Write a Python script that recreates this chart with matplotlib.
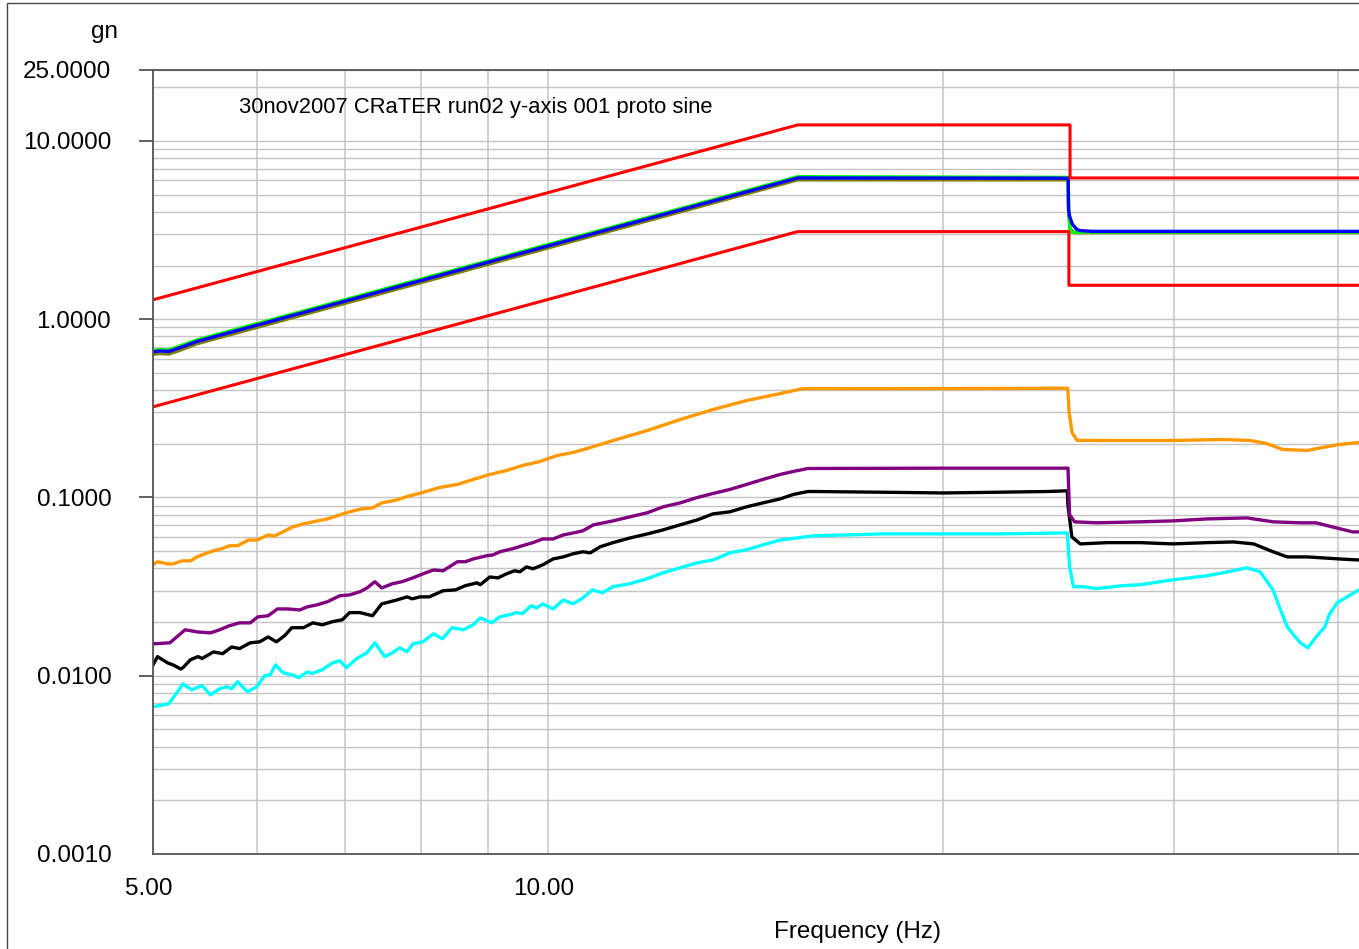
import matplotlib
matplotlib.use("Agg")
import matplotlib.pyplot as plt
from matplotlib.patches import Rectangle
from matplotlib.transforms import ScaledTranslation
from matplotlib.ticker import FixedLocator, FixedFormatter, NullFormatter

plt.rcParams['font.family'] = ['Liberation Sans', 'DejaVu Sans']

title = "30nov2007 CRaTER run02 y-axis 001 proto sine"

# limits (red) and control/reference traces
red_hi_f = [5.0, 15.5, 25.0, 25.0, 50.0]
red_hi_g = [1.285, 12.3, 12.3, 6.2, 6.2]
red_lo_f = [5.0, 15.5, 24.95, 24.95, 50.0]
red_lo_g = [0.3225, 3.1, 3.1, 1.55, 1.55]

blue_f = [5.0, 5.06, 5.14, 5.25, 5.4, 15.5, 24.92, 24.93, 24.98, 25.1, 25.3, 25.45, 26.0, 50.0]
blue_g = [0.656, 0.664, 0.659, 0.695, 0.75, 6.2, 6.18, 4.13, 3.79, 3.41, 3.19, 3.14, 3.11, 3.11]

green_f = [5.0, 5.06, 5.14, 5.25, 5.4, 15.5, 24.92, 24.94, 24.99, 25.05, 50.0]
green_g = [0.668, 0.676, 0.672, 0.71, 0.765, 6.3, 6.25, 4.0, 3.2, 3.08, 3.08]

olive_f = [5.0, 5.06, 5.14, 5.25, 5.4, 15.5, 24.92, 24.94, 25.0, 25.2, 50.0]
olive_g = [0.635, 0.642, 0.637, 0.672, 0.728, 6.05, 6.05, 4.0, 3.2, 3.06, 3.06]

# response channels
orange_f = [5.0, 5.04, 5.13, 5.18, 5.26, 5.34, 5.4, 5.5, 5.56, 5.64, 5.72, 5.8, 5.91, 6.0,
            6.12, 6.19, 6.28, 6.39, 6.51, 6.62, 6.79, 6.94, 7.06, 7.21, 7.35, 7.47, 7.67,
            7.81, 8.03, 8.27, 8.53, 8.77, 9.03, 9.3, 9.56, 9.86, 10.16, 10.45, 10.71, 10.96,
            11.21, 11.9, 12.61, 13.36, 14.17, 15.03, 15.65, 20.0, 24.9, 24.96, 25.09, 25.31,
            26.7, 29.95, 32.7, 34.3, 35.3, 36.3, 37.9, 39.3, 40.1, 41.5, 42.0]
orange_g = [0.0419, 0.0436, 0.0424, 0.0424, 0.0441, 0.0441, 0.0464, 0.0489, 0.0502, 0.0516,
            0.0536, 0.0536, 0.0577, 0.0577, 0.0616, 0.0609, 0.0641, 0.0684, 0.0711, 0.0730,
            0.0758, 0.0798, 0.0831, 0.0863, 0.0874, 0.0932, 0.0969, 0.1013, 0.1067, 0.1138,
            0.1183, 0.1262, 0.1346, 0.1417, 0.1511, 0.1591, 0.1719, 0.1788, 0.1882, 0.1983,
            0.2087, 0.2373, 0.2735, 0.3115, 0.3497, 0.3827, 0.4083, 0.408, 0.41, 0.30, 0.231,
            0.209, 0.2087, 0.2087, 0.2115, 0.2087, 0.2007, 0.1859, 0.1835, 0.1931, 0.1983,
            0.2034, 0.204]

purple_f = [5.0, 5.15, 5.29, 5.41, 5.53, 5.62, 5.72, 5.82, 5.93, 6.01, 6.12, 6.22, 6.33, 6.47,
            6.55, 6.67, 6.79, 6.94, 7.06, 7.19, 7.28, 7.38, 7.47, 7.61, 7.74, 7.89, 8.03, 8.18,
            8.32, 8.53, 8.65, 8.77, 8.98, 9.08, 9.19, 9.4, 9.56, 9.74, 9.91, 10.09, 10.27,
            10.45, 10.63, 10.83, 11.21, 11.54, 11.9, 12.24, 12.61, 13.0, 13.36, 13.76, 14.17,
            14.58, 15.03, 15.38, 15.78, 20.0, 24.91, 24.98, 25.2, 26.2, 28.25, 29.95, 31.8,
            34.1, 35.7, 37.45, 38.5, 39.6, 41.05, 42.0]
purple_g = [0.0151, 0.0153, 0.0181, 0.0176, 0.0174, 0.0181, 0.0191, 0.0198, 0.0198, 0.0214,
            0.0217, 0.0237, 0.0237, 0.0234, 0.0243, 0.0250, 0.0260, 0.0281, 0.0284, 0.0296,
            0.0311, 0.0337, 0.0311, 0.0328, 0.0337, 0.0354, 0.0373, 0.0392, 0.0388, 0.0436,
            0.0436, 0.0452, 0.0471, 0.0476, 0.0496, 0.0516, 0.0536, 0.0558, 0.0585, 0.0585,
            0.0616, 0.0632, 0.0650, 0.0702, 0.0739, 0.0778, 0.0820, 0.0886, 0.0932, 0.100,
            0.1053, 0.1109, 0.1183, 0.1262, 0.1346, 0.1399, 0.1454, 0.146, 0.146, 0.08,
            0.0730, 0.0721, 0.0730, 0.0739, 0.0758, 0.0768, 0.0730, 0.0721, 0.0721, 0.0684,
            0.0641, 0.0641]

black_f = [5.0, 5.04, 5.13, 5.18, 5.25, 5.27, 5.34, 5.41, 5.45, 5.56, 5.65, 5.74, 5.82, 5.93,
           6.03, 6.12, 6.21, 6.3, 6.38, 6.51, 6.62, 6.73, 6.85, 6.97, 7.06, 7.19, 7.35, 7.47,
           7.67, 7.81, 7.88, 7.99, 8.12, 8.32, 8.5, 8.65, 8.83, 8.88, 9.03, 9.16, 9.3, 9.43,
           9.52, 9.63, 9.74, 9.91, 10.09, 10.27, 10.45, 10.63, 10.77, 10.96, 11.21, 11.54,
           11.9, 12.24, 12.61, 13.0, 13.36, 13.76, 14.17, 14.58, 15.03, 15.38, 15.78, 16.0,
           18.0, 20.0, 22.0, 24.0, 24.88, 24.91, 25.08, 25.45, 26.7, 28.25, 29.95, 31.8, 33.3,
           34.5, 35.7, 36.6, 37.9, 39.0, 40.1, 41.5, 42.0]
black_g = [0.0115, 0.0128, 0.0118, 0.0115, 0.0109, 0.0111, 0.0123, 0.0128, 0.0125, 0.0136,
           0.0133, 0.0145, 0.0142, 0.0153, 0.0155, 0.0165, 0.0155, 0.0168, 0.0186, 0.0186,
           0.0198, 0.0193, 0.0201, 0.0206, 0.0226, 0.0226, 0.0217, 0.0253, 0.0266, 0.0277,
           0.0270, 0.0277, 0.0277, 0.0300, 0.0303, 0.0320, 0.0332, 0.0324, 0.0358, 0.0354,
           0.0373, 0.0388, 0.0383, 0.0408, 0.0398, 0.0419, 0.0452, 0.0464, 0.0483, 0.0496,
           0.0489, 0.0529, 0.0558, 0.0592, 0.0624, 0.0658, 0.0702, 0.0749, 0.0809, 0.0831,
           0.0886, 0.0932, 0.0982, 0.1039, 0.1080, 0.108, 0.107, 0.106, 0.107, 0.108, 0.109,
           0.090, 0.0601, 0.0549, 0.0558, 0.0558, 0.0549, 0.0558, 0.0563, 0.0549, 0.0496,
           0.0464, 0.0464, 0.0458, 0.0452, 0.0446, 0.0446]

cyan_f = [5.0, 5.14, 5.18, 5.27, 5.35, 5.45, 5.53, 5.62, 5.69, 5.74, 5.8, 5.9, 6.0, 6.08,
          6.14, 6.2, 6.28, 6.39, 6.46, 6.55, 6.61, 6.73, 6.85, 6.94, 7.02, 7.15, 7.28, 7.38,
          7.51, 7.61, 7.71, 7.81, 7.89, 8.03, 8.18, 8.31, 8.45, 8.62, 8.77, 8.88, 9.06, 9.19,
          9.35, 9.46, 9.56, 9.71, 9.8, 9.91, 10.09, 10.27, 10.45, 10.63, 10.81, 11.0, 11.21,
          11.54, 11.9, 12.24, 12.61, 13.0, 13.36, 13.76, 14.17, 14.58, 15.03, 15.47, 15.92,
          18.0, 20.0, 22.0, 24.0, 24.88, 24.98, 25.15, 25.6, 26.2, 27.4, 28.25, 29.95, 31.8,
          32.7, 34.1, 34.9, 35.7, 36.1, 36.6, 37.0, 37.45, 37.95, 38.5, 39.1, 39.4, 39.95,
          40.9, 41.5, 42.0]
cyan_g = [0.0067, 0.00697, 0.00753, 0.0090, 0.00835, 0.00879, 0.00782, 0.00845, 0.00868,
          0.00845, 0.00926, 0.00814, 0.00868, 0.0100, 0.0101, 0.01152, 0.0104, 0.0101, 0.00975,
          0.0105, 0.0103, 0.0108, 0.0118, 0.01214, 0.0111, 0.0125, 0.01346, 0.01531, 0.01278,
          0.01346, 0.01435, 0.01363, 0.0151, 0.0155, 0.01719, 0.01612, 0.0186, 0.0181, 0.0193,
          0.0211, 0.0198, 0.0214, 0.0220, 0.0226, 0.0223, 0.0247, 0.0240, 0.0253, 0.0237,
          0.0266, 0.0253, 0.0273, 0.0303, 0.0292, 0.0316, 0.0328, 0.0350, 0.0378, 0.0403,
          0.0430, 0.0446, 0.0489, 0.0509, 0.0542, 0.0577, 0.0592, 0.0609, 0.0625, 0.0625,
          0.0625, 0.063, 0.0633, 0.0408, 0.0316, 0.0316, 0.0308, 0.0320, 0.0324, 0.0345,
          0.0364, 0.0378, 0.0403, 0.0383, 0.0303, 0.0243, 0.0188, 0.0170, 0.0153, 0.01435,
          0.0165, 0.0188, 0.0220, 0.0257, 0.0284, 0.0303, 0.031]

y_ticks = [0.001, 0.01, 0.1, 1.0, 10.0, 25.0]
y_labels = ["0.0010", "0.0100", "0.1000", "1.0000", "10.0000", "25.0000"]
x_ticks = [5.0, 10.0]
x_labels = ["5.00", "10.00"]
x_minor = [6, 7, 8, 9, 20, 30, 40]
y_minor = [m * d for d in (0.001, 0.01, 0.1, 1.0) for m in range(2, 10)] + [20.0]

W, H = 1359, 949
fig = plt.figure(figsize=(W / 100, H / 100), dpi=100)
fig.add_artist(Rectangle((7 / W, -0.1), 2.0, 1.1 - 2.5 / H, transform=fig.transFigure,
                         fill=False, ec="#444444", lw=1.0))

# axis runs out to 50 Hz, past the right edge of the picture
ax = fig.add_axes([153 / W, 1 - 854 / H, 1312 / W, (854 - 70) / H])
ax.set_xscale("log")
ax.set_yscale("log")

lw = 2.4
ax.plot(cyan_f, cyan_g, color="#00FFFF", lw=lw)
ax.plot(black_f, black_g, color="black", lw=lw)
ax.plot(purple_f, purple_g, color="#800080", lw=lw)
ax.plot(orange_f, orange_g, color="#FF9900", lw=lw)
ax.plot(olive_f, olive_g, color="#808000", lw=lw)
ax.plot(green_f, green_g, color="#00FF00", lw=lw)
ax.plot(blue_f, blue_g, color="#0000FF", lw=lw)
ax.plot(red_hi_f, red_hi_g, color="#FF0000", lw=2.2)
ax.plot(red_lo_f, red_lo_g, color="#FF0000", lw=2.2)

ax.set_xlim(5, 50)
ax.set_ylim(0.001, 25)

ax.yaxis.set_major_locator(FixedLocator(y_ticks))
ax.yaxis.set_major_formatter(FixedFormatter(y_labels))
ax.yaxis.set_minor_locator(FixedLocator(y_minor))
ax.yaxis.set_minor_formatter(NullFormatter())
ax.xaxis.set_major_locator(FixedLocator(x_ticks))
ax.xaxis.set_major_formatter(FixedFormatter(x_labels))
ax.xaxis.set_minor_locator(FixedLocator(x_minor))
ax.xaxis.set_minor_formatter(NullFormatter())

ax.tick_params(axis="y", which="major", direction="out", length=10, width=1.2,
               color="#444444", pad=20, labelsize=17.5)
ax.tick_params(axis="x", which="major", length=0, pad=17, labelsize=17.5)
ax.tick_params(which="minor", length=0)
ax.yaxis.get_major_ticks()[0].tick1line.set_visible(False)
shift = ScaledTranslation(-4 / 100, 0, fig.dpi_scale_trans)
for lab in ax.get_xticklabels():
    lab.set_transform(lab.get_transform() + shift)

ax.grid(True, which="both", axis="y", color="#c4c4c4", lw=1.0)
ax.grid(True, which="both", axis="x", color="#d2d2d2", lw=1.4)
ax.set_axisbelow(True)

for side in ("left", "top", "bottom"):
    ax.spines[side].set_color("#555555")
    ax.spines[side].set_linewidth(1.3)
ax.spines["right"].set_visible(False)

fig.text(239 / W, 1 - 113 / H, title, fontsize=15.8, ha="left", va="baseline")
fig.text(118 / W, 1 - 38 / H, "gn", fontsize=17.5, ha="right", va="baseline")
fig.text(857 / W, 1 - 932 / H, "Frequency (Hz)", fontsize=17.5, ha="center", va="center")

fig.savefig("out.png", dpi=100)
